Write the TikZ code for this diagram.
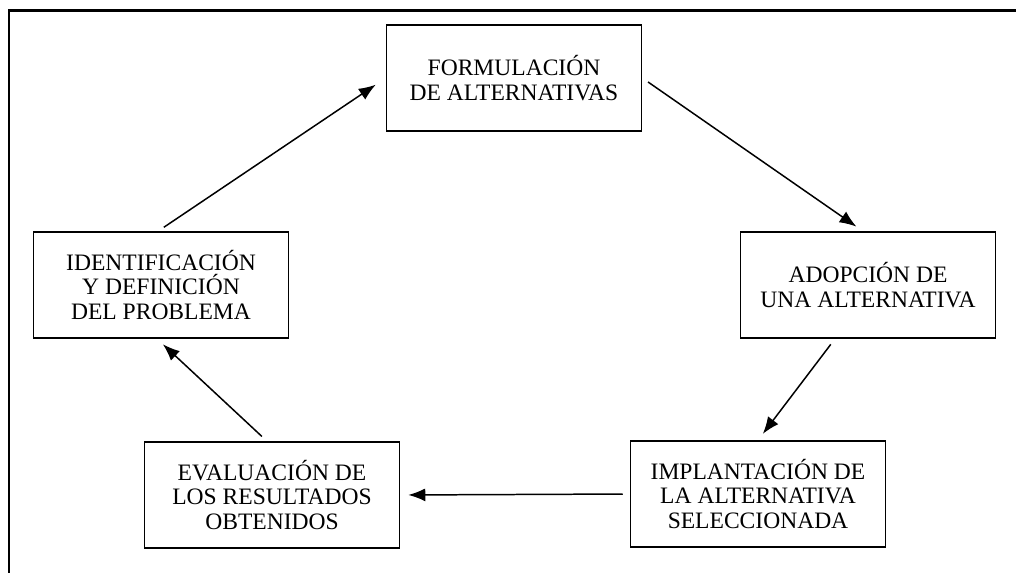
\documentclass[tikz,border=0pt]{standalone}
\usepackage{fontspec}
\setmainfont{Liberation Serif}
\usetikzlibrary{arrows.meta}

\begin{document}
\begin{tikzpicture}
    [x=0.02cm, y=-0.02cm,
    stage/.style={draw, line width=0.9pt, minimum width=5.1cm, minimum height=2.12cm, align=center, inner sep=2pt, font=\fontsize{13.4}{13.9}\selectfont},
    flow/.style={-{Latex[length=3.4mm, width=2.6mm]}, line width=0.85pt, shorten >=0.16cm, shorten <=0.14cm}]
    \useasboundingbox (0,0) rectangle (1016,573);
    \clip (0,0) rectangle (1016,573);
    \draw[line width=1.7pt] (9,11) rectangle (1040,600);
    \node[stage] (F) at (514, 78)  {FORMULACIÓN\\DE ALTERNATIVAS};
    \node[stage] (A) at (868, 285) {ADOPCIÓN DE\\UNA ALTERNATIVA};
    \node[stage] (I) at (758, 494) {IMPLANTACIÓN DE\\LA ALTERNATIVA\\SELECCIONADA};
    \node[stage] (E) at (272, 495) {EVALUACIÓN DE\\LOS RESULTADOS\\OBTENIDOS};
    \node[stage] (D) at (161, 285) {IDENTIFICACIÓN\\Y DEFINICIÓN\\DEL PROBLEMA};
    \draw[flow, shorten >=0.24cm] ([xshift=-0.06cm]D.north) -- (F.west);
    \draw[flow] (F.east) -- ([xshift=-0.1cm]A.north);
    \draw[flow] ([xshift=-0.66cm]A.south) -- (I.north);
    \draw[flow] (I.west) -- (E.east);
    \draw[flow] ([xshift=-0.1cm]E.north) -- ([xshift=-0.08cm]D.south);
\end{tikzpicture}
\end{document}
